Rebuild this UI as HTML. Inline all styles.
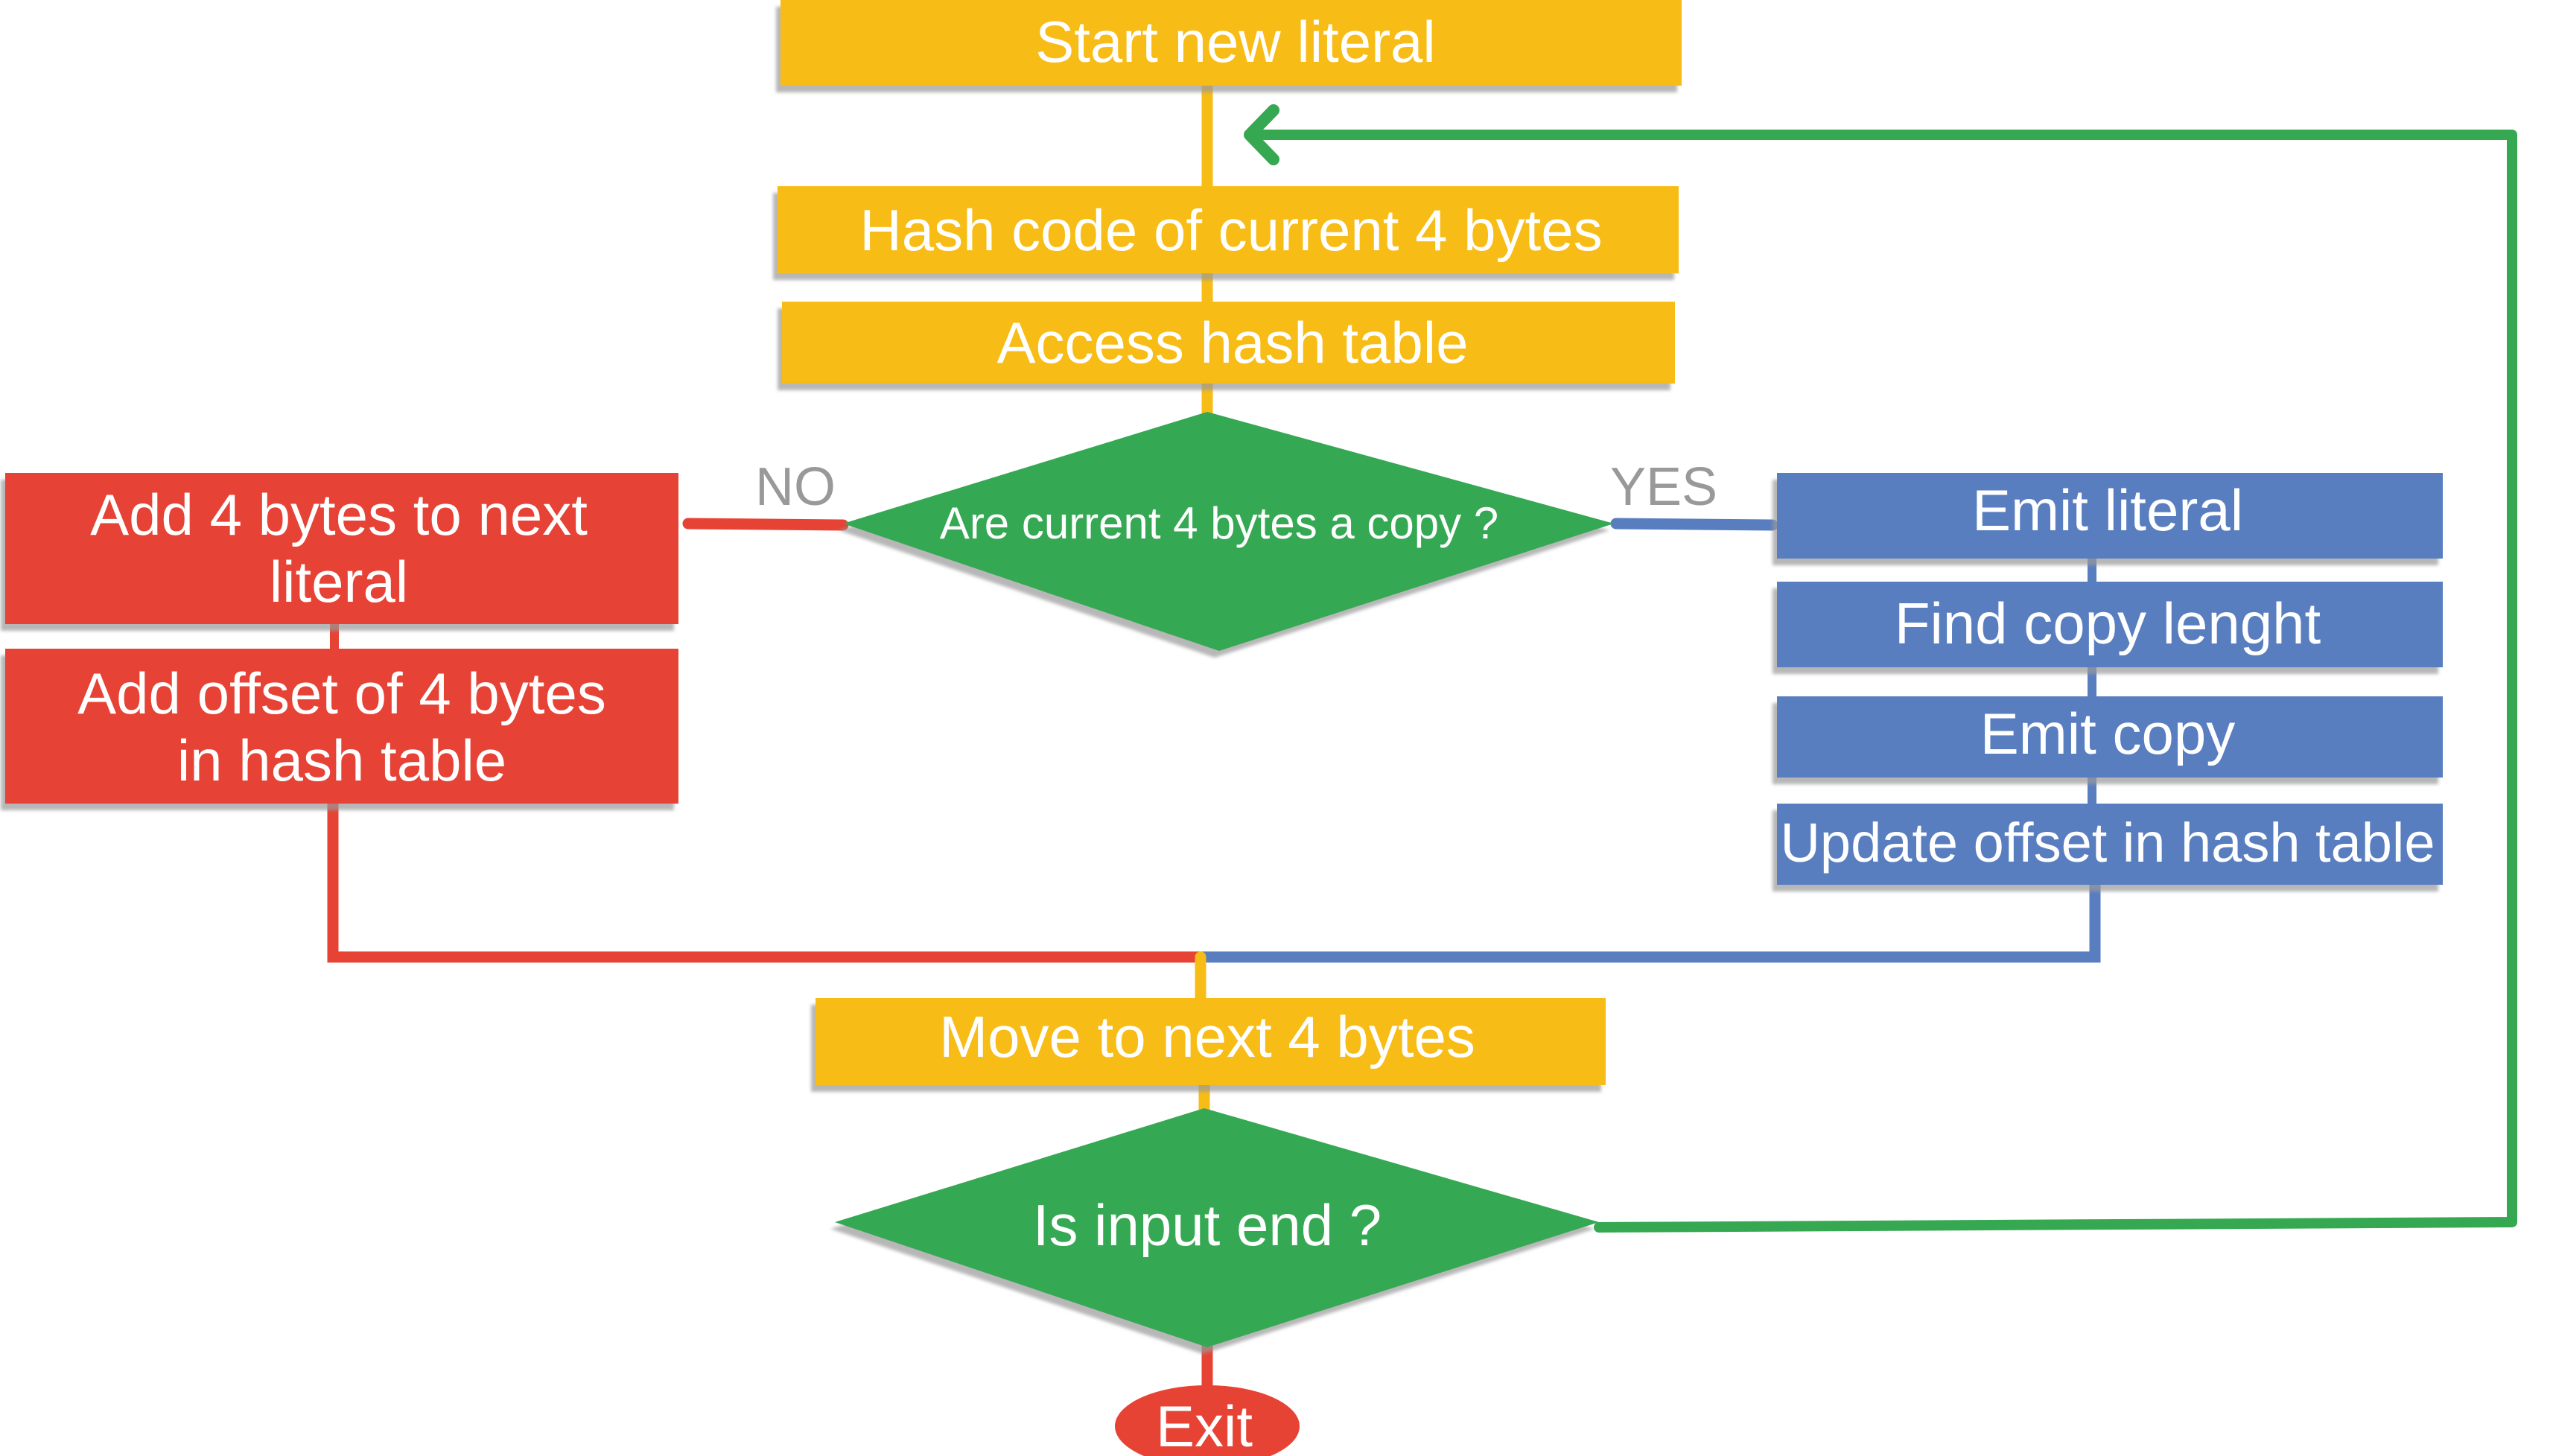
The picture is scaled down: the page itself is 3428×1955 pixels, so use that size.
<!DOCTYPE html>
<html><head><meta charset="utf-8"><style>
html,body{margin:0;padding:0;background:#fff;}
svg{display:block;}
text{font-family:"Liberation Sans",sans-serif;fill:#fff;text-anchor:middle;}
</style></head><body>
<svg width="3428" height="1955" viewBox="0 0 3428 1955" xmlns="http://www.w3.org/2000/svg">
<defs>
<filter id="sh" x="-5%" y="-5%" width="115%" height="125%"><feDropShadow dx="-6" dy="9" stdDeviation="2" flood-color="#999" flood-opacity="0.7"/></filter>
</defs>
<!-- connectors -->
<g stroke-linecap="round" fill="none">
<line x1="1621" y1="110" x2="1621" y2="560" stroke="#F8BC16" stroke-width="15"/>
<line x1="924" y1="703" x2="1132" y2="705" stroke="#E64335" stroke-width="15"/>
<line x1="2170" y1="703" x2="2380" y2="705" stroke="#587EC0" stroke-width="15"/>
<line x1="449" y1="830" x2="449" y2="880" stroke="#E64335" stroke-width="12"/>
<line x1="2809" y1="740" x2="2809" y2="1090" stroke="#587EC0" stroke-width="12"/>
<polyline points="447,1079 447,1285 1612,1285" stroke="#E64335" stroke-width="15"/>
<polyline points="2813,1188 2813,1285 1612,1285" stroke="#587EC0" stroke-width="15"/>
<line x1="1612" y1="1285" x2="1612" y2="1345" stroke="#F8BC16" stroke-width="15"/>
<line x1="1617" y1="1450" x2="1617" y2="1490" stroke="#F8BC16" stroke-width="15"/>
<line x1="1621" y1="1809" x2="1621" y2="1862" stroke="#E64335" stroke-width="15"/>
<polyline points="2147,1648 3373,1641 3373,181 1681,181" stroke="#36A852" stroke-width="14" stroke-linejoin="round"/>
<polyline points="1710,148 1678,181 1710,214" stroke="#36A852" stroke-width="16" stroke-linejoin="round"/>
</g>
<!-- boxes -->
<g filter="url(#sh)">
<rect x="1048" y="0" width="1210" height="115" fill="#F8BC16"/>
<rect x="1044" y="250" width="1210" height="117" fill="#F8BC16"/>
<rect x="1050" y="405" width="1199" height="110" fill="#F8BC16"/>
<polygon points="1621,553 2167,703 1637,874 1132,703" fill="#36A852"/>
<rect x="7" y="635" width="904" height="203" fill="#E64335"/>
<rect x="7" y="871" width="904" height="208" fill="#E64335"/>
<rect x="2386" y="635" width="894" height="115" fill="#587EC0"/>
<rect x="2386" y="781" width="894" height="115" fill="#587EC0"/>
<rect x="2386" y="935" width="894" height="109" fill="#587EC0"/>
<rect x="2386" y="1079" width="894" height="109" fill="#587EC0"/>
<rect x="1095" y="1340" width="1061" height="117" fill="#F8BC16"/>
<polygon points="1617,1488 2147,1641 1621,1809 1121,1641" fill="#36A852"/>
</g>
<ellipse cx="1621" cy="1915" rx="124" ry="55" fill="#E64335"/>
<!-- text -->
<g font-size="78">
<text x="1659" y="83">Start new literal</text>
<text x="1653" y="336">Hash code of current 4 bytes</text>
<text x="1655" y="487">Access hash table</text>
<text x="455" y="718">Add 4 bytes to next</text>
<text x="455" y="808">literal</text>
<text x="459" y="958">Add offset of 4 bytes</text>
<text x="459" y="1048">in hash table</text>
<text x="2830" y="712">Emit literal</text>
<text x="2830" y="864">Find copy lenght</text>
<text x="2830" y="1012">Emit copy</text>
<text x="2830" y="1157" font-size="74">Update offset in hash table</text>
<text x="1621" y="1419">Move to next 4 bytes</text>
<text x="1621" y="1672">Is input end ?</text>
<text x="1617" y="1942">Exit</text>
</g>
<text x="1637" y="723" font-size="60">Are current 4 bytes a copy ?</text>
<text x="1068" y="678" font-size="72" style="fill:#999">NO</text>
<text x="2234" y="678" font-size="72" style="fill:#999">YES</text>
</svg>
</body></html>
